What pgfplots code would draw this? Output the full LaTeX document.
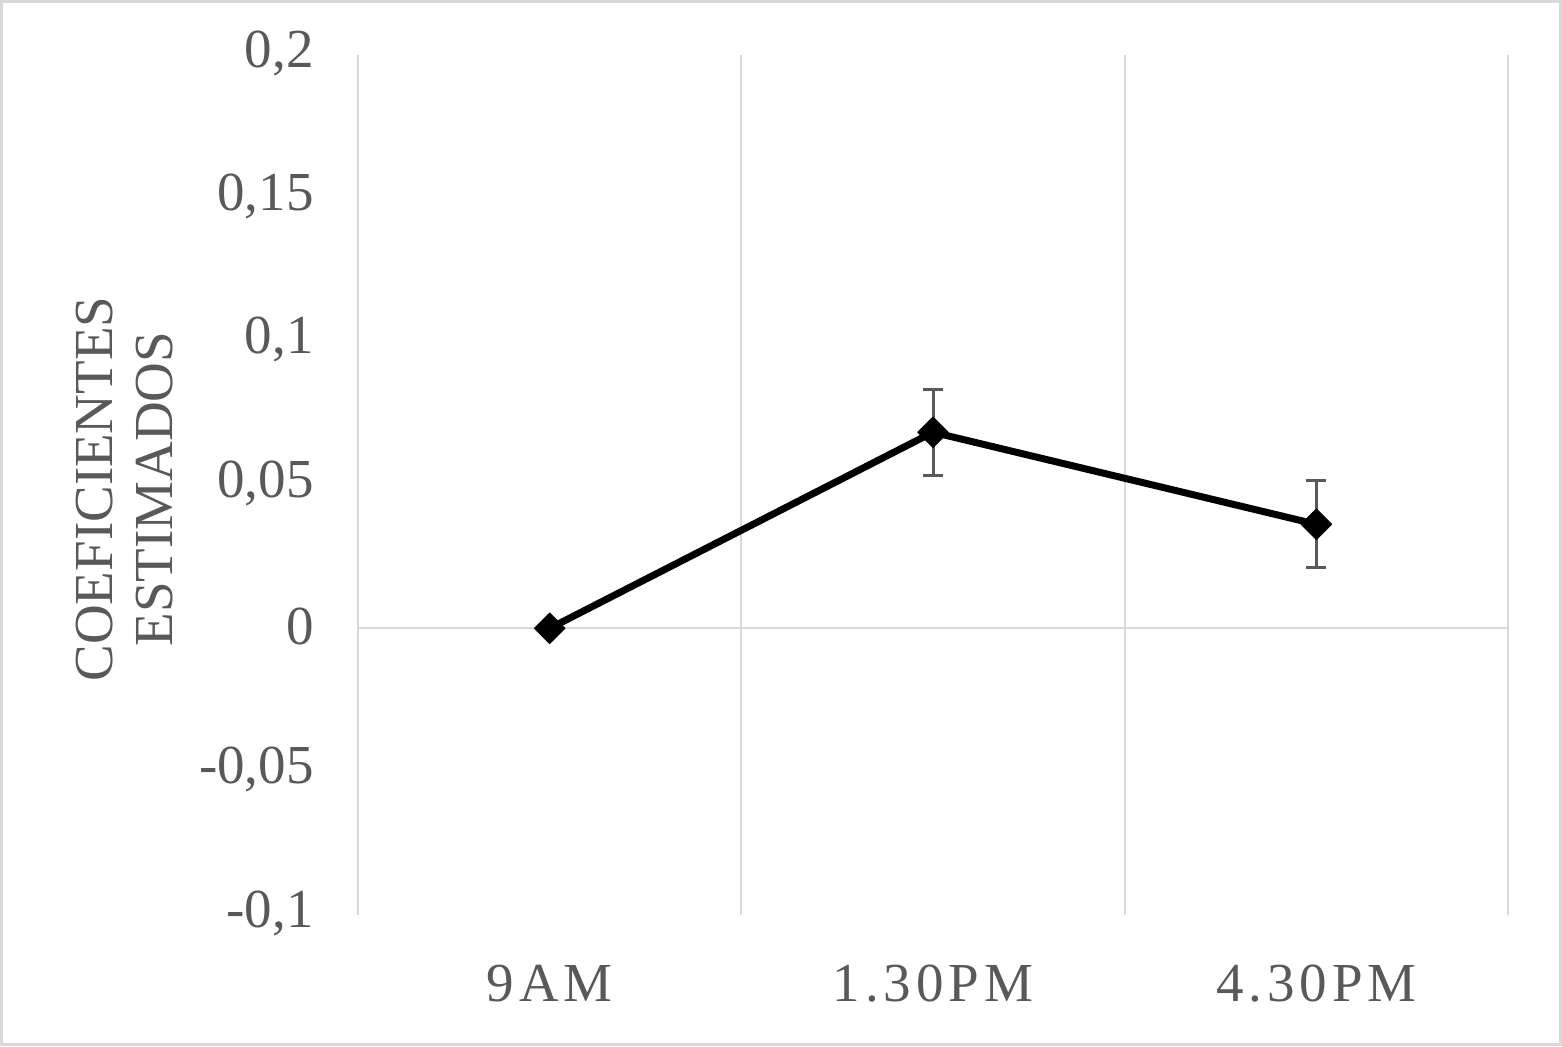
\documentclass[border=0pt]{standalone}
\usepackage{fontspec}
\setmainfont{Liberation Serif}
\newfontfamily\spacedfont[LetterSpace=9]{Liberation Serif}
\usepackage{pgfplots}
\pgfplotsset{compat=1.18}
\definecolor{txt}{HTML}{595959}
\definecolor{gridc}{HTML}{D9D9D9}
\begin{document}
\begin{tikzpicture}
\useasboundingbox (0pt,0pt) rectangle (781pt,523pt);
\fill[white] (0pt,0pt) rectangle (781pt,523pt);
\draw[gridc, line width=1.5pt] (0.75pt,0.75pt) rectangle (780.25pt,522.25pt);
\begin{axis}[
  at={(179pt,65.5pt)}, anchor=south west,
  scale only axis, width=575pt, height=430pt,
  xmin=-0.5, xmax=2.5, ymin=-0.1, ymax=0.2,
  axis line style={draw=none},
  major tick length=0pt,
  xtick={0,1,2},
  xticklabels={9AM,1.30PM,4.30PM},
  xtick style={draw=none},
  ytick style={draw=none},
  extra x ticks={-0.5,0.5,1.5,2.5},
  extra x tick labels={},
  extra x tick style={grid=major, major grid style={gridc, line width=1pt}},
  ytick={-0.1,-0.05,0,0.05,0.1,0.15,0.2},
  yticklabels={{-0,1},{-0,05},{0},{0,05},{0,1},{0,15},{0,2}},
  extra y ticks={0},
  extra y tick labels={},
  extra y tick style={grid=major, major grid style={gridc, line width=1pt}},
  yticklabel style={font=\fontsize{27.5}{33}\selectfont, text=txt, inner sep=0pt, yshift=1pt},
  xticklabel style={font=\spacedfont\fontsize{27.5}{33}\selectfont, text=txt, inner sep=0pt},
  yticklabel shift=22pt,
  xticklabel shift=25pt,
  ylabel={COEFICIENTES\\ESTIMADOS},
  every axis y label/.style={at={(axis description cs:-0.2026,0.4953)}, rotate=90, anchor=center,
     align=center, text=txt,
     font=\fontsize{27.5}{30}\selectfont},
  clip=false,
]
\addplot[black, line width=3.5pt, line join=round,
  mark=square*, mark size=5.4pt,
  mark options={rotate=45, solid, line width=0.5pt, fill=black},
  error bars/.cd, y dir=both, y explicit,
  error bar style={txt, line width=1.5pt},
  error mark options={rotate=90, txt, mark size=5pt, line width=1.5pt}]
  coordinates {
  (0,0) +- (0,0)
  (1,0.0684) +- (0,0.015)
  (2,0.0363) +- (0,0.0152)
  };
\end{axis}
\end{tikzpicture}
\end{document}
